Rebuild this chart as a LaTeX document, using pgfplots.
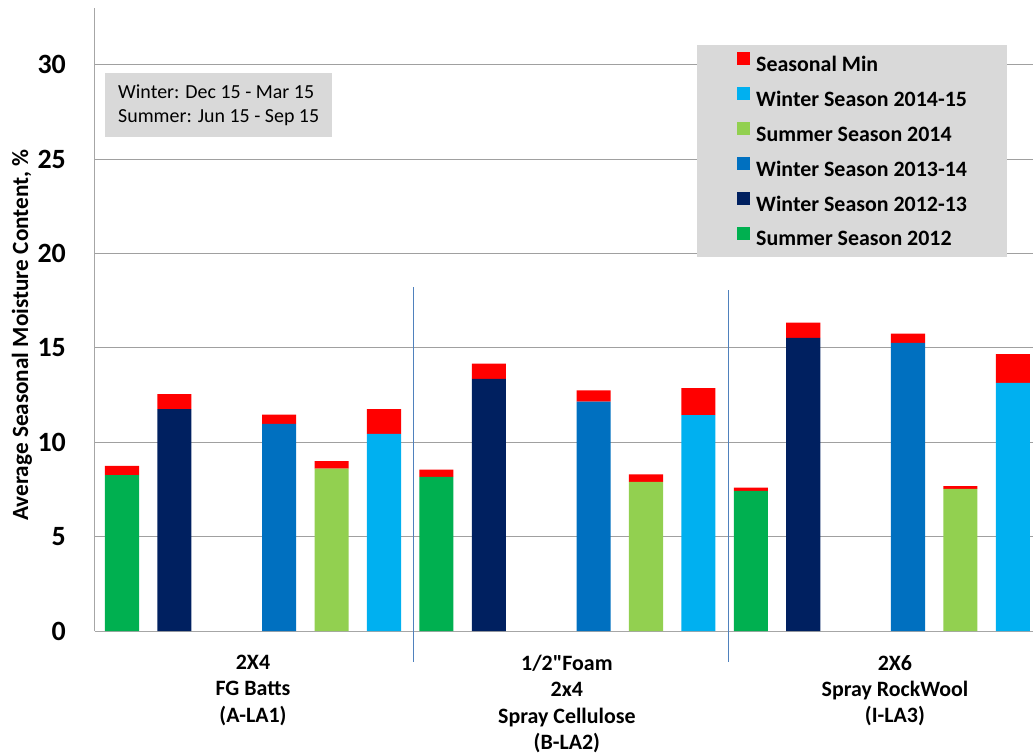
\documentclass[border=0pt]{standalone}
\usepackage{fontspec}
\setmainfont{Carlito}
\usepackage{pgfplots}
\usepackage{pgfplotstable}
\pgfplotsset{compat=1.18}
\definecolor{cGreen}{HTML}{00B050}
\definecolor{cNavy}{HTML}{002060}
\definecolor{cBlue}{HTML}{0070C0}
\definecolor{cLGreen}{HTML}{92D050}
\definecolor{cLBlue}{HTML}{00B0F0}
\definecolor{cRed}{HTML}{FF0000}
\definecolor{legendgray}{HTML}{D9D9D9}
\definecolor{gridgray}{HTML}{A0A0A0}
\definecolor{axisgray}{HTML}{A6A6A6}
\definecolor{sepblue}{HTML}{4F81BD}

% slot  summer2012  winter2012-13  winter2013-14  summer2014  winter2014-15  seasonal-min increment
\pgfplotstableread{
x  g     n      b      lg    lb     r
0  8.25  0      0      0     0      0.50
1  0     11.75  0      0     0      0.80
3  0     0      10.97  0     0      0.49
4  0     0      0      8.60  0      0.40
5  0     0      0      0     10.44  1.31
6  8.17  0      0      0     0      0.38
7  0     13.35  0      0     0      0.81
9  0     0      12.15  0     0      0.60
10 0     0      0      7.90  0      0.39
11 0     0      0      0     11.43  1.43
12 7.42  0      0      0     0      0.18
13 0     15.52  0      0     0      0.81
15 0     0      15.26  0     0      0.49
16 0     0      0      7.53  0      0.14
17 0     0      0      0     13.14  1.52
}\data

\pgfplotsset{legsq/.style={legend image code/.code={\fill[##1] (0bp,0.5bp) rectangle (13bp,13.5bp); \path (19bp,0bp);}}}

\begin{document}
\begin{tikzpicture}
\useasboundingbox (-95bp,-124bp) rectangle (938bp,631bp);
\begin{axis}[
  scale only axis, width=938bp, height=623bp,
  at={(0,0)}, anchor=south west,
  xmin=-0.515, xmax=17.385, ymin=0, ymax=33,
  axis lines*=left,
  axis line style={draw=axisgray, line width=1bp},
  ymajorgrids, major grid style={draw=gridgray, line width=1bp},
  ytick={0,5,10,15,20,25,30},
  xtick={2.50,8.49,14.75},
  xticklabels={{2X4\\FG Batts\\(A-LA1)},{1/2\textquotedbl Foam\\2x4\\Spray Cellulose\\(B-LA2)},{2X6\\Spray RockWool\\(I-LA3)}},
  major tick length=0pt,
  tick style={draw=none},
  /pgf/number format/assume math mode=true,
  yticklabel style={font=\bfseries\fontsize{28}{32}\selectfont, inner sep=0pt, xshift=-29bp},
  xticklabel style={font=\bfseries\fontsize{22}{26.5}\selectfont, align=center, inner sep=0pt, anchor=north, yshift=-24bp},
  ylabel={Average Seasonal Moisture Content, \%},
  ylabel style={font=\bfseries\fontsize{23.3}{27}\selectfont, at={(axis description cs:-0.0778,0.475)}, anchor=center},
  ybar stacked, bar width=0.65,
  clip=false,
  reverse legend,
  legend cell align=left,
  legend style={draw=none, fill=legendgray, at={(axis description cs:0.6418,0.9406)}, anchor=north west,
    inner xsep=40bp, inner ysep=7.25bp, row sep=11.9bp,
    font=\bfseries\fontsize{22}{26}\selectfont,
    nodes={inner sep=0pt, text height=15bp, text depth=4bp}},
]
\addplot[fill=cGreen, draw=none, legsq] table[x=x, y=g] {\data};
\addlegendentry{Summer Season 2012}
\addplot[fill=cNavy, draw=none, legsq] table[x=x, y=n] {\data};
\addlegendentry{Winter Season 2012-13}
\addplot[fill=cBlue, draw=none, legsq] table[x=x, y=b] {\data};
\addlegendentry{Winter Season 2013-14}
\addplot[fill=cLGreen, draw=none, legsq] table[x=x, y=lg] {\data};
\addlegendentry{Summer Season 2014}
\addplot[fill=cLBlue, draw=none, legsq] table[x=x, y=lb] {\data};
\addlegendentry{Winter Season 2014-15}
\addplot[fill=cRed, draw=none, legsq] table[x=x, y=r] {\data};
\addlegendentry{Seasonal Min}

\draw[sepblue, line width=1bp] (axis cs:5.57,18.2) -- (axis cs:5.57,-1.64);
\draw[sepblue, line width=1bp] (axis cs:11.565,18.04) -- (axis cs:11.565,-1.64);

\node[fill=legendgray, anchor=north west, minimum width=227bp, minimum height=64bp, align=left,
  font=\fontsize{20}{24.7}\selectfont, inner sep=0pt] at (axis description cs:0.01066,0.8957)
  {Winter: Dec 15 - Mar 15\\Summer: Jun 15 - Sep 15};
\end{axis}
\end{tikzpicture}
\end{document}
